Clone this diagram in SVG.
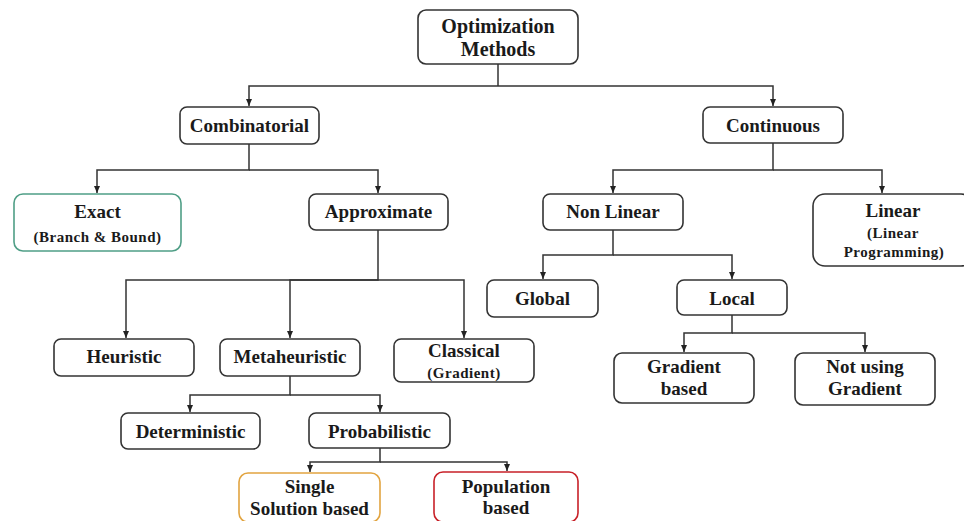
<svg xmlns="http://www.w3.org/2000/svg" width="964" height="521" viewBox="0 0 964 521">
<defs>
<style>
.box{fill:#fff;stroke:#333;stroke-width:1.6}
.green{stroke:#4f9e86}
.orange{stroke:#e2a440}
.red{stroke:#c82128}
text{font-family:'Liberation Serif','DejaVu Serif',serif;font-weight:bold;fill:#1a1a1a;text-anchor:middle;font-size:19px}
.big{font-size:20px}
.sub{font-size:15px;letter-spacing:0.5px}
.conn{fill:none;stroke:#333;stroke-width:1.5}
</style>
<marker id="a" markerWidth="8" markerHeight="8" refX="7" refY="4" orient="auto" markerUnits="userSpaceOnUse" viewBox="0 0 8 8">
<path d="M0,1 L7,4 L0,7 Z" fill="#222"/>
</marker>
</defs>
<g id="connectors">
<path class="conn" d="M498,64 V86"/>
<path class="conn" d="M498,86 H249 V106" marker-end="url(#a)"/>
<path class="conn" d="M498,86 H773 V106" marker-end="url(#a)"/>
<path class="conn" d="M249,144 V170 H97 V193" marker-end="url(#a)"/>
<path class="conn" d="M249,170 H378 V193" marker-end="url(#a)"/>
<path class="conn" d="M773,143 V170 H613 V193" marker-end="url(#a)"/>
<path class="conn" d="M773,170 H882 V193" marker-end="url(#a)"/>
<path class="conn" d="M378,230 V280 H126 V338" marker-end="url(#a)"/>
<path class="conn" d="M378,280 H290 V338" marker-end="url(#a)"/>
<path class="conn" d="M378,280 H464 V338" marker-end="url(#a)"/>
<path class="conn" d="M613,230 V255 H543 V279" marker-end="url(#a)"/>
<path class="conn" d="M613,255 H732 V279" marker-end="url(#a)"/>
<path class="conn" d="M732,315 V333 H684 V352" marker-end="url(#a)"/>
<path class="conn" d="M732,333 H865 V352" marker-end="url(#a)"/>
<path class="conn" d="M290,376 V395 H190 V412" marker-end="url(#a)"/>
<path class="conn" d="M290,395 H380 V412" marker-end="url(#a)"/>
<path class="conn" d="M380,448 V462 H310 V472" marker-end="url(#a)"/>
<path class="conn" d="M380,462 H507 V471" marker-end="url(#a)"/>
</g>
<g id="optimization">
<rect class="box" x="418" y="10" width="160" height="54" rx="8"/>
<text class="big" x="498" y="33">Optimization</text>
<text class="big" x="498" y="56">Methods</text>
</g>
<g id="combinatorial">
<rect class="box" x="180" y="107" width="139" height="37" rx="7"/>
<text x="249.5" y="132">Combinatorial</text>
</g>
<g id="continuous">
<rect class="box" x="703" y="107" width="140" height="36" rx="7"/>
<text x="773" y="132">Continuous</text>
</g>
<g id="exact">
<rect class="box green" x="14" y="194" width="167" height="57" rx="9"/>
<text x="97.5" y="218">Exact</text>
<text class="sub" x="97.5" y="242">(Branch &amp; Bound)</text>
</g>
<g id="approximate">
<rect class="box" x="309" y="194" width="139" height="36" rx="7"/>
<text x="378.5" y="218">Approximate</text>
</g>
<g id="nonlinear">
<rect class="box" x="543" y="194" width="140" height="36" rx="7"/>
<text x="613" y="218">Non Linear</text>
</g>
<g id="linear">
<rect class="box" x="813" y="194" width="160" height="72" rx="12"/>
<text x="893" y="217">Linear</text>
<text class="sub" x="893" y="238">(Linear</text>
<text class="sub" x="894" y="257">Programming)</text>
</g>
<g id="heuristic">
<rect class="box" x="54" y="339" width="140" height="37" rx="7"/>
<text x="124" y="363">Heuristic</text>
</g>
<g id="metaheuristic">
<rect class="box" x="220" y="339" width="140" height="37" rx="7"/>
<text x="290" y="363">Metaheuristic</text>
</g>
<g id="classical">
<rect class="box" x="394" y="339" width="140" height="43" rx="7"/>
<text x="464" y="357">Classical</text>
<text class="sub" x="464" y="378">(Gradient)</text>
</g>
<g id="global">
<rect class="box" x="487" y="280" width="111" height="37" rx="7"/>
<text x="542.5" y="305">Global</text>
</g>
<g id="local">
<rect class="box" x="677" y="280" width="110" height="35" rx="7"/>
<text x="732" y="305">Local</text>
</g>
<g id="gradient-based">
<rect class="box" x="614" y="353" width="140" height="50" rx="8"/>
<text x="684" y="373">Gradient</text>
<text x="684" y="395">based</text>
</g>
<g id="not-using-gradient">
<rect class="box" x="795" y="353" width="140" height="52" rx="8"/>
<text x="865" y="373">Not using</text>
<text x="865" y="395">Gradient</text>
</g>
<g id="deterministic">
<rect class="box" x="121" y="413" width="139" height="36" rx="7"/>
<text x="190.5" y="438">Deterministic</text>
</g>
<g id="probabilistic">
<rect class="box" x="309" y="413" width="141" height="35" rx="7"/>
<text x="379.5" y="438">Probabilistic</text>
</g>
<g id="single-solution">
<rect class="box orange" x="239" y="473" width="141" height="49" rx="9"/>
<text x="309.5" y="493">Single</text>
<text x="309.5" y="515">Solution based</text>
</g>
<g id="population">
<rect class="box red" x="434" y="472" width="144" height="50" rx="9"/>
<text x="506" y="493">Population</text>
<text x="506" y="514">based</text>
</g>
</svg>
